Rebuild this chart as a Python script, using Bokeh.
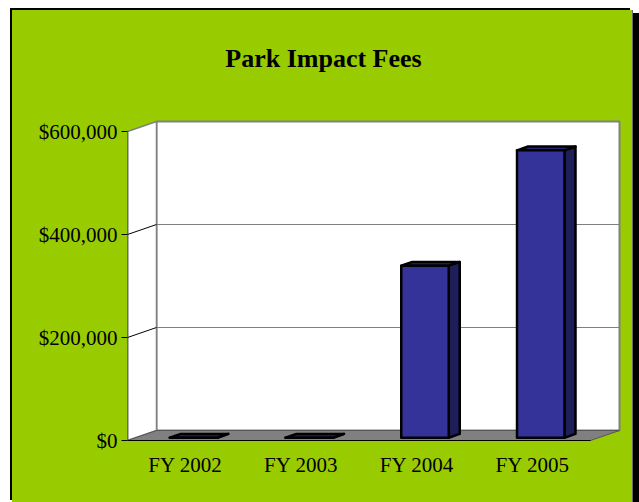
from bokeh.plotting import figure
from bokeh.models import Range1d, FixedTicker, NumeralTickFormatter, Label, CustomJSTickFormatter
from bokeh.embed import file_html
from bokeh.resources import INLINE

# ---- data ----
categories = ["FY 2002", "FY 2003", "FY 2004", "FY 2005"]
fees = [0, 0, 334000, 558000]
y_ticks = [0, 200000, 400000, 600000]
y_max = 600000
title_text = "Park Impact Fees"

# ---- style / layout constants (pixels) ----
GREEN = "#99CC00"
SERIF = "Liberation Serif"
W, H = 620, 492
ORG_X, ORG_Y = 12, 10            # page position of figure
AX_X = 127                       # front-left axis x (page)
FLOOR_R_X = 590                  # front-right floor x (page)
Y0_PX, YMAX_PX = 440, 131        # $0 and $600,000 on front plane (page)
FRAME_B = 442
DX_PX, DY_PX = 29, 10            # depth of the 3D box
BAR_W = 0.41                     # bar width as fraction of category
F0, F1 = 0.28, 0.66              # bar front/back depth fraction

n = len(categories)
kx = n / (FLOOR_R_X - AX_X)          # data units per px (x)
ky = y_max / (Y0_PX - YMAX_PX)       # data units per px (y)
ddx, ddy = DX_PX * kx, DY_PX * ky

x_range = Range1d(0, (ORG_X + W - AX_X) * kx)
y_range = Range1d(-(FRAME_B - Y0_PX) * ky, (Y0_PX - ORG_Y) * ky)

p = figure(width=W, height=H, x_range=x_range, y_range=y_range,
           output_backend="svg", toolbar_location=None,
           min_border_left=AX_X - ORG_X, min_border_bottom=ORG_Y + H - FRAME_B,
           min_border_top=0, min_border_right=0,
           background_fill_color=None, border_fill_color=None,
           outline_line_color=None)
p.margin = (ORG_Y, 0, 0, ORG_X)
p.styles = {"background-color": GREEN,
            "box-shadow": "-2px -2px 0 0 #000000, 1px 0 0 0 #6b6b6b, 7px 3px 0 0 #000000"}
p.grid.visible = False

# back wall
p.patch([ddx, n + ddx, n + ddx, ddx], [ddy, ddy, y_max + ddy, y_max + ddy],
        fill_color="white", line_color="#808080", line_width=2)
# back wall gridlines
for t in y_ticks[1:-1]:
    p.line([ddx, n + ddx], [t + ddy, t + ddy], line_color="#808080", line_width=1)
# left wall
p.patch([0, ddx, ddx, 0], [0, ddy, y_max + ddy, y_max],
        fill_color="white", line_color="#808080", line_width=1.5)
for t in y_ticks[1:-1]:
    p.line([0, ddx], [t, t + ddy], line_color="#000000", line_width=1)
# floor
p.patch([0, n, n + ddx, ddx], [0, 0, ddy, ddy],
        fill_color="#808080", line_color="#555555", line_width=1)
p.line([0, n], [0, 0], line_color="#000000", line_width=1.2)
# left wall front edge
p.line([0, 0], [0, y_max], line_color="#333333", line_width=1.5)

# bars
front_x, front_y, side_x, side_y, top_x, top_y = [], [], [], [], [], []
hw = BAR_W / 2
for i, v in enumerate(fees):
    xc = i + 0.5
    xl0, xr0 = xc - hw + F0 * ddx, xc + hw + F0 * ddx
    xl1, xr1 = xc - hw + F1 * ddx, xc + hw + F1 * ddx
    yb0, yb1 = F0 * ddy, F1 * ddy
    front_x.append([xl0, xr0, xr0, xl0]); front_y.append([yb0, yb0, v + yb0, v + yb0])
    side_x.append([xr0, xr1, xr1, xr0]); side_y.append([yb0, yb1, v + yb1, v + yb0])
    top_x.append([xl0, xr0, xr1, xl1]); top_y.append([v + yb0, v + yb0, v + yb1, v + yb1])

p.patches(side_x, side_y, fill_color="#1E1E5A", line_color="black", line_width=2.5, line_join="round")
p.patches(top_x, top_y, fill_color="#262673", line_color="black", line_width=2.5, line_join="round")
p.patches(front_x, front_y, fill_color="#333399", line_color="black", line_width=2.5, line_join="round")

# y axis
ya = p.yaxis[0]
ya.ticker = FixedTicker(ticks=y_ticks, minor_ticks=[])
ya.formatter = NumeralTickFormatter(format="$0,0")
ya.axis_line_color = None
ya.major_tick_out = 6
ya.major_tick_in = 0
ya.major_tick_line_color = "black"
ya.minor_tick_line_color = None
ya.major_label_standoff = 4
ya.major_label_text_font = SERIF
ya.major_label_text_font_size = "21px"
ya.major_label_text_color = "black"

# x axis
xa = p.xaxis[0]
xa.ticker = FixedTicker(ticks=[i + 0.5 for i in range(n)], minor_ticks=[])
xa.formatter = CustomJSTickFormatter(args=dict(cats=categories),
                                     code="return cats[Math.floor(tick)];")
xa.axis_line_color = None
xa.major_tick_line_color = None
xa.minor_tick_line_color = None
xa.major_tick_out = 0
xa.major_tick_in = 0
xa.major_label_standoff = 10
xa.major_label_text_font = SERIF
xa.major_label_text_font_size = "21px"
xa.major_label_text_color = "black"

# title
p.add_layout(Label(x=(323 - AX_X) * kx, y=(Y0_PX - 58) * ky, text=title_text,
                   text_align="center", text_baseline="alphabetic",
                   text_font=SERIF, text_font_size="26px", text_font_style="bold",
                   text_color="black"))

open("out.html", "w").write(file_html(p, INLINE))
